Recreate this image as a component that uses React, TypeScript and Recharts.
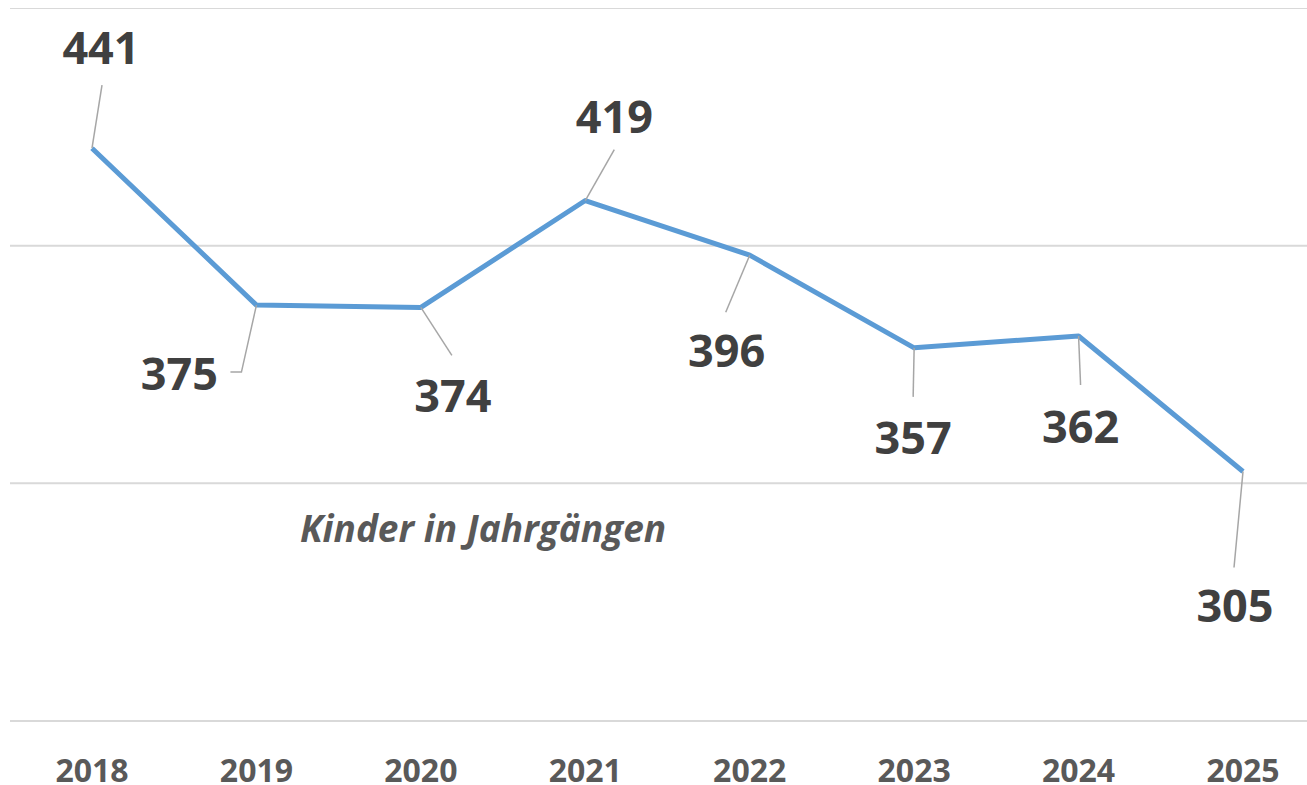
import { LineChart, Line, XAxis, YAxis, CartesianGrid, Legend, LabelList } from 'recharts';

const years = ['2018', '2019', '2020', '2021', '2022', '2023', '2024', '2025'];
const kinder = [441, 375, 374, 419, 396, 357, 362, 305];
const yTicks = [200, 300, 400, 500];
const seriesName = 'Kinder in Jahrgängen';

const data = years.map((year, i) => ({ year, kinder: kinder[i] }));

// label placement (text centre relative to the point) and leader line path, per point
const labelPos = [
  { dx: 9, dy: -100, leader: [[10, -63]] },
  { dx: -77, dy: 69, leader: [[-15, 67], [-26, 67]] },
  { dx: 32, dy: 89, leader: [[31, 48]] },
  { dx: 29, dy: -84, leader: [[29, -51]] },
  { dx: -23, dy: 96, leader: [[-24, 57]] },
  { dx: -1, dy: 90, leader: [[-1, 49]] },
  { dx: 2, dy: 91, leader: [[2, 49]] },
  { dx: -8, dy: 135, leader: [[-9, 96]] },
];

const FONT = '"Open Sans", sans-serif';

const renderLabel = (props: any) => {
  const { x, y, value, index } = props;
  const pos = labelPos[index];
  if (!pos) return null;
  const pts = [[0, 0], ...pos.leader].map(([a, b]) => `${x + a},${y + b}`).join(' ');
  return (
    <g>
      <polyline points={pts} fill="none" stroke="#a6a6a6" strokeWidth={1.5} />
      <text
        x={x + pos.dx}
        y={y + pos.dy + 16}
        textAnchor="middle"
        fontFamily={FONT}
        fontWeight={700}
        fontSize={45}
        fill="#404040"
      >
        {value}
      </text>
    </g>
  );
};

const YearTick = (props: any) => {
  const { x, y, payload } = props;
  return (
    <text x={x} y={y} dy={61} textAnchor="middle" fontFamily={FONT} fontWeight={700} fontSize={32} fill="#595959">
      {payload.value}
    </text>
  );
};

const SeriesTitle = () => (
  <div
    style={{
      fontFamily: FONT,
      fontStyle: 'italic',
      fontWeight: 700,
      fontSize: 37,
      lineHeight: '37px',
      color: '#595959',
      textAlign: 'center',
      whiteSpace: 'nowrap',
    }}
  >
    {seriesName}
  </div>
);

export default function App() {
  return (
    <div style={{ position: 'absolute', top: 8, left: 8, width: 1299, height: 777, overflow: 'hidden' }}>
      <LineChart width={1317} height={777} data={data} margin={{ top: 0, right: 0, left: 2, bottom: 0 }}>
        <CartesianGrid vertical={false} stroke="#d9d9d9" strokeWidth={2} />
        <XAxis
          dataKey="year"
          axisLine={false}
          tickLine={false}
          tickSize={0}
          tickMargin={0}
          height={64}
          padding={{ left: 82, right: 82 }}
          tick={<YearTick />}
        />
        <YAxis hide domain={[200, 500]} ticks={yTicks} />
        <Legend
          layout="horizontal"
          verticalAlign="middle"
          align="center"
          content={<SeriesTitle />}
          wrapperStyle={{ position: 'absolute', left: 175, top: 501, width: 600 }}
        />
        <Line
          type="linear"
          dataKey="kinder"
          name={seriesName}
          stroke="#5b9bd5"
          strokeWidth={5}
          strokeLinejoin="round"
          dot={false}
          activeDot={false}
          isAnimationActive={false}
        >
          <LabelList dataKey="kinder" content={renderLabel} />
        </Line>
      </LineChart>
    </div>
  );
}
